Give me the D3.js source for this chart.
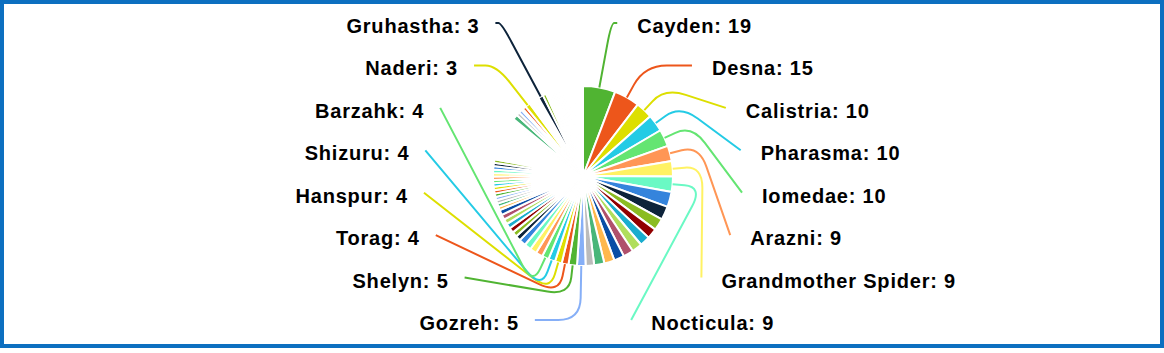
<!DOCTYPE html>
<html>
<head>
<meta charset="utf-8">
<script src="https://cdn.jsdelivr.net/npm/d3@7"></script>
<style>
  html, body { margin: 0; padding: 0; background: #fff; }
  svg { display: block; }
</style>
</head>
<body>
<div id="content"></div>
<script>
// slice values, clockwise from 12 o'clock (most slices are tiny and unlabelled)
const values = [
  19, 15, 10, 10, 10, 9, 9, 9,
  9, 8, 7, 6, 6, 6, 6, 6, 6, 6, 5,
  5, 5, 4, 4, 4, 4,
  4, 4, 4, 4, 3, 3, 3, 3, 3, 3, 3,
  2, 2, 2, 2, 2, 2, 2, 2, 2, 2, 2, 2, 2, 2, 2,
  1, 1, 1, 1, 1, 1, 1, 1, 1, 1, 1, 1, 1, 1, 1, 1, 1, 1, 1, 1, 1, 1, 1, 1, 1, 1,
  3, 2, 2, 1, 2, 3, 1, 1, 1, 1, 1, 1, 3, 2,
  1, 1, 1, 1, 1, 1, 1, 1, 1, 1, 1, 1, 1, 1, 1, 1, 1, 1, 1, 1, 1, 1
];

// slices whose label is visible
const labelIdx   = [0, 1, 2, 3, 4, 5, 6, 7, 19, 20, 21, 22, 23, 24, 82, 89];
const labelNames = ["Cayden", "Desna", "Calistria", "Pharasma", "Iomedae", "Arazni",
                    "Grandmother Spider", "Nocticula", "Gozreh", "Shelyn", "Torag",
                    "Hanspur", "Shizuru", "Barzahk", "Naderi", "Gruhastha"];

const palette = ["#50b432", "#ed561b", "#dddf00", "#24cbe5", "#64e572", "#ff9655",
                 "#fff263", "#6af9c4", "#3584dc", "#0d233a", "#8bbc21", "#910000",
                 "#1aadce", "#b0de5c", "#b0506c", "#0a4ea6", "#ffb84d", "#48b679",
                 "#bbbbbb", "#86aff7"];

const W = 1164, H = 353;
const cx = 583, cy = 176, R = 90;
const R1 = 120;                   // elbow of the label line
const topY = 23, bottomY = 320;   // first / last label row
const Rx = 160, Ry = 151;         // ellipse the label lines end on

const data = values.map((v, i) => ({ value: v, i: i, name: "" }));
labelIdx.forEach((k, j) => data[k].name = labelNames[j]);

const arcs = d3.pie().sort(null).value(d => d.value)(data);
const arc = d3.arc().innerRadius(0).outerRadius(R);

// label layout
arcs.forEach(d => {
    d.mid = (d.startAngle + d.endAngle) / 2;
    d.sx = Math.sin(d.mid);
    d.sy = -Math.cos(d.mid);
});
const lab = arcs.filter(d => d.data.name);
lab.forEach(d => { d.side = d.sx < 0 ? -1 : 1; d.ny = cy + R1 * d.sy; });
[-1, 1].forEach(s => {
    const g = lab.filter(d => d.side === s).sort((a, b) => a.ny - b.ny);
    const step = (bottomY - topY) / Math.max(1, g.length - 1);
    g.forEach((d, i) => d.ly = topY + i * step);
});
lab.forEach(d => {
    const dy = d.ly - cy;
    d.p0 = [cx + R * d.sx, cy + R * d.sy];
    let off = Rx * Math.sqrt(Math.max(0, 1 - (dy / Ry) ** 2));
    const reach = dy / d.sy;
    if (reach > R1 && Math.abs(d.sy) > 0.5) {
        d.p1 = [cx + reach * d.sx, d.ly];
        off = Math.max(off, Math.abs(reach * d.sx) + 6);
    } else {
        d.p1 = [cx + R1 * d.sx, cy + R1 * d.sy];
    }
    d.p2 = [cx + d.side * off, d.ly];
});

// polyline p0-p1-p2 with a rounded elbow
function linePath(d) {
    const [p0, p1, p2] = [d.p0, d.p1, d.p2];
    const d01 = Math.hypot(p0[0] - p1[0], p0[1] - p1[1]) || 1;
    const d12 = Math.hypot(p2[0] - p1[0], p2[1] - p1[1]) || 1;
    const ca = Math.min(22, d01 * 0.6), cb = Math.min(22, d12 * 0.5);
    const p = d3.path();
    p.moveTo(p0[0], p0[1]);
    p.lineTo(p1[0] + (p0[0] - p1[0]) * ca / d01, p1[1] + (p0[1] - p1[1]) * ca / d01);
    p.quadraticCurveTo(p1[0], p1[1],
        p1[0] + (p2[0] - p1[0]) * cb / d12, p1[1] + (p2[1] - p1[1]) * cb / d12);
    p.lineTo(p2[0], p2[1]);
    return p.toString();
}

////////////////// Draw
const svg = d3.select("#content")
    .append("svg")
    .attr("width", W)
    .attr("height", H);
svg.append("rect")
    .attr("width", W)
    .attr("height", H)
    .attr("fill", "#fff");

const center = svg.append("g").attr("transform", "translate(" + [cx, cy] + ")");

center.selectAll(".slice")
    .data(arcs)
    .enter()
        .append("path")
        .attr("class", "slice")
        .attr("d", arc)
        .attr("fill", d => palette[d.data.i % palette.length])
        .attr("stroke", "#fff")
        .attr("stroke-width", 2)
        .attr("stroke-linejoin", "round");

svg.selectAll(".labelLine")
    .data(lab)
    .enter()
        .append("path")
        .attr("class", "labelLine")
        .attr("d", linePath)
        .attr("fill", "none")
        .attr("stroke", d => palette[d.data.i % palette.length])
        .attr("stroke-width", 2);

svg.selectAll(".label")
    .data(lab)
    .enter()
        .append("text")
        .attr("class", "label")
        .attr("x", d => d.p2[0] + (d.side > 0 ? 20 : -16))
        .attr("y", d => d.ly + 10)
        .attr("text-anchor", d => d.side > 0 ? "start" : "end")
        .attr("font-family", "'Liberation Sans', Arial, sans-serif")
        .attr("font-weight", "bold")
        .attr("font-size", 20)
        .attr("letter-spacing", 0.8)
        .attr("fill", "#000")
        .text(d => d.data.name + ": " + d.data.value);

// frame
svg.append("rect")
    .attr("x", 2).attr("y", 2)
    .attr("width", W - 4).attr("height", H - 9)
    .attr("fill", "none")
    .attr("stroke", "#0d6fc0")
    .attr("stroke-width", 4);
</script>
</body>
</html>
